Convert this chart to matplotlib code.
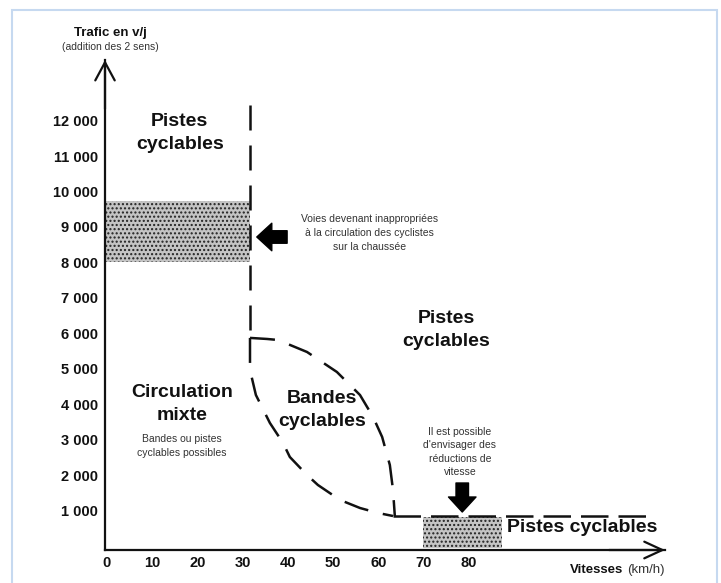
import matplotlib.pyplot as plt
from matplotlib.patches import Rectangle

plt.rcParams['font.family'] = ['Liberation Sans', 'DejaVu Sans']

# values
y_ticks = [1000, 2000, 3000, 4000, 5000, 6000, 7000, 8000, 9000, 10000, 11000, 12000]
y_labels = ['1 000', '2 000', '3 000', '4 000', '5 000', '6 000', '7 000',
            '8 000', '9 000', '10 000', '11 000', '12 000']
x_ticks = [0, 10, 20, 30, 40, 50, 60, 70, 80]

# boundary lines (speed km/h, traffic v/j)
vert_x = [31.6, 31.6]
vert_y = [12440, 5870]
lower_x = [31.6, 31.6, 32.9, 36.0, 38.9, 40.4, 44.2, 46.6, 51.5, 55.9, 59.9, 63.2]
lower_y = [5870, 4965, 4260, 3470, 2906, 2511, 2003, 1721, 1298, 1072, 931, 846]
upper_x = [31.6, 35.4, 37.8, 44.2, 50.8, 55.9, 58.8, 60.8, 62.5, 63.2, 63.6]
upper_y = [5870, 5840, 5811, 5473, 4909, 4260, 3639, 3075, 2285, 1580, 846]
horiz_x = [63.2, 120]
horiz_y = [846, 846]

# shaded zones (x0, x1, y0, y1)
zone_high = [-0.44, 31.6, 8010, 9730]
zone_low = [69.8, 87.3, -60, 820]

fig = plt.figure(figsize=(7.21, 5.83), dpi=100)
fig.patch.set_facecolor('white')
fig.patches.append(Rectangle((12/721, -0.02), 705/721, 0.983 + 0.02, transform=fig.transFigure,
                             fill=False, edgecolor='#c6d9f0', lw=1.5))

ax = fig.add_axes([105/721, 33/583, 560/721, 490/583])
ax.set_xlim(-0.44, 123.3)
ax.set_ylim(-113, 13710)
for s in ['top', 'right']:
    ax.spines[s].set_visible(False)
for s in ['left', 'bottom']:
    ax.spines[s].set_linewidth(1.6)
    ax.spines[s].set_color('#111111')

ax.set_yticks(y_ticks)
ax.set_yticklabels(y_labels, fontsize=10.5, fontweight='bold', color='#111111')
ax.set_xticks(x_ticks)
ax.set_xticklabels([str(v) for v in x_ticks], fontsize=10.5, fontweight='bold', color='#111111')
ax.tick_params(axis='y', length=0, pad=5)
ax.tick_params(axis='x', length=0, pad=4)

# axis arrows
ax.annotate('', xy=(0, 1.0), xytext=(0, 0.9), xycoords='axes fraction',
            arrowprops=dict(arrowstyle='->,head_length=1.3,head_width=0.7', lw=1.6, color='#111111',
                            shrinkA=0, shrinkB=0))
ax.annotate('', xy=(1.0, 0), xytext=(0.9, 0), xycoords='axes fraction',
            arrowprops=dict(arrowstyle='->,head_length=1.3,head_width=0.6', lw=1.6, color='#111111',
                            shrinkA=0, shrinkB=0))

# stippled zones
for z in [zone_high, zone_low]:
    ax.add_patch(Rectangle((z[0], z[2]), z[1] - z[0], z[3] - z[2], facecolor='#c4c4c4',
                           edgecolor='#222222', hatch='....', lw=0, zorder=1))

dash = (0, (10, 6))
ax.plot(vert_x, vert_y, color='#111111', lw=1.8, linestyle=dash, clip_on=False)
ax.plot(lower_x, lower_y, color='#111111', lw=1.8, linestyle=dash)
ax.plot(upper_x, upper_y, color='#111111', lw=1.8, linestyle=dash)
ax.plot(horiz_x, horiz_y, color='#111111', lw=1.8, linestyle=(0, (11, 4)))

# block arrows
ax.annotate('', xy=(33.1, 8717), xytext=(39.8, 8717),
            arrowprops=dict(arrowstyle='simple,head_length=0.6,head_width=1.1,tail_width=0.5',
                            color='black', mutation_scale=18, shrinkA=0, shrinkB=0))
ax.annotate('', xy=(78.5, 959), xytext=(78.5, 1777),
            arrowprops=dict(arrowstyle='simple,head_length=0.6,head_width=1.1,tail_width=0.5',
                            color='black', mutation_scale=18, shrinkA=0, shrinkB=0))

# zone labels
big = dict(fontsize=14, fontweight='bold', color='#111111', ha='center', va='center',
           linespacing=1.4)
small = dict(fontsize=7.5, color='#333333', ha='center', va='center', linespacing=1.45)
ax.text(16.1, 11650, 'Pistes\ncyclables', **big)
ax.text(74.9, 6093, 'Pistes\ncyclables', **big)
ax.text(16.6, 4006, 'Circulation\nmixte', **big)
ax.text(16.6, 2821, 'Bandes ou pistes\ncyclables possibles', **small)
ax.text(47.5, 3837, 'Bandes\ncyclables', **big)
ax.text(105, 508, 'Pistes cyclables', **big)
ax.text(58.1, 8830, 'Voies devenant inappropriées\nà la circulation des cyclistes\nsur la chaussée', **small)
ax.text(78.0, 2652, "Il est possible\nd'envisager des\nréductions de\nvitesse", **small)

# axis titles
fig.text(110/721, 1 - 33/583, 'Trafic en v/j', fontsize=9.5, fontweight='bold',
         color='#111111', ha='center', va='center')
fig.text(110/721, 1 - 47/583, '(addition des 2 sens)', fontsize=7.5,
         color='#333333', ha='center', va='center')
fig.text(623/721, 1 - 570/583, 'Vitesses', fontsize=9.5, fontweight='bold',
         color='#111111', ha='right', va='center')
fig.text(627/721, 1 - 570/583, '(km/h)', fontsize=9.5,
         color='#333333', ha='left', va='center')

fig.savefig('out.png', dpi=100)
